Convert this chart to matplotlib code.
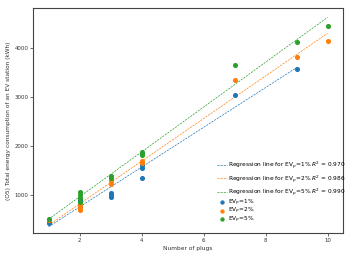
import numpy as np
import matplotlib
matplotlib.use('Agg')
import matplotlib.pyplot as plt

# number of plugs vs total energy consumption (kWh), per EV penetration
blue_x = [1, 1, 2, 2, 2, 3, 3, 3, 4, 4, 4, 7, 9]
blue_y = [435, 470, 760, 850, 900, 960, 1000, 1050, 1340, 1550, 1620, 3040, 3570]
orange_x = [1, 2, 2, 2, 3, 3, 4, 4, 7, 9, 10]
orange_y = [490, 700, 730, 800, 1220, 1280, 1650, 1700, 3345, 3815, 4145]
green_x = [1, 2, 2, 2, 2, 3, 3, 4, 4, 4, 7, 9, 10]
green_y = [520, 850, 930, 1000, 1060, 1350, 1380, 1810, 1860, 1885, 3655, 4120, 4450]

series_names = ['1%', '2%', '5%']
r2_values = ['0.970', '0.986', '0.990']
colors = ['#1f77b4', '#ff7f0e', '#2ca02c']

fig = plt.figure(figsize=(3.49, 2.6), dpi=100)
ax = fig.add_axes([0.0946, 0.104, 0.8884, 0.865])

series = [(blue_x, blue_y), (orange_x, orange_y), (green_x, green_y)]
line_handles = []
dot_handles = []
for (xs, ys), name, r2, c in zip(series, series_names, r2_values, colors):
    xs = np.array(xs)
    ys = np.array(ys)
    slope, icpt = np.polyfit(xs, ys, 1)
    xl = np.array([xs.min(), xs.max()])
    ln, = ax.plot(xl, slope * xl + icpt, '--', color=c, lw=0.5, dashes=(3, 1.5),
                  label=f'Regression line for EV$_p$={name} $R^2$ = {r2}')
    line_handles.append(ln)
    sc = ax.scatter(xs, ys, s=7, color=c, zorder=3, label=f'EV$_p$={name}')
    dot_handles.append(sc)

ax.set_xlim(0.5, 10.5)
ax.set_ylim(225, 4815)
ax.set_xticks([2, 4, 6, 8, 10])
ax.set_yticks([1000, 2000, 3000, 4000])
ax.tick_params(labelsize=3.9, length=2, width=0.5, pad=1.5, colors='#333333')
for sp in ax.spines.values():
    sp.set_linewidth(0.8)
    sp.set_color('#444444')

ax.set_xlabel('Number of plugs', fontsize=4.2, labelpad=2, color='#333333')
ax.set_ylabel('(O5) Total energy consumption of an EV station (kWh)', fontsize=4.2,
              labelpad=2, color='#333333')

leg1 = ax.legend(handles=line_handles, loc='upper left', bbox_to_anchor=(0.594, 0.326),
                 frameon=False, fontsize=4.2, borderpad=0, borderaxespad=0,
                 handlelength=1.7, handletextpad=0.2, labelspacing=0.33)
ax.add_artist(leg1)
ax.legend(handles=dot_handles, loc='upper left', bbox_to_anchor=(0.594, 0.158),
          frameon=False, fontsize=4.2, borderpad=0, borderaxespad=0,
          handlelength=1.7, handletextpad=0.2, labelspacing=-0.3, markerscale=0.8)

fig.savefig('out.png', dpi=100)
